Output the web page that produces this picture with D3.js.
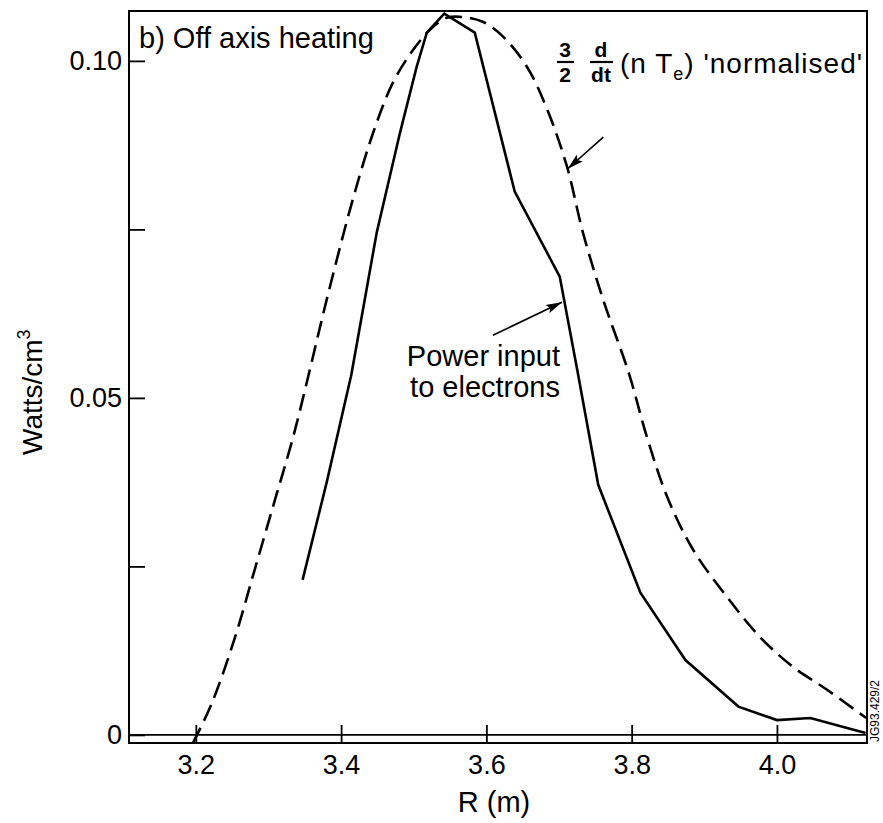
<!DOCTYPE html>
<meta charset="utf-8">
<style>
  body {
    margin: 0;
    background: #fff;
  }

  svg {
    font-family: "Liberation Sans", Arial, Helvetica, sans-serif;
  }

  .frame {
    fill: none;
    stroke: #000;
    stroke-width: 2;
  }

  .axis path {
    display: none;
  }

  .axis line {
    stroke: #000;
    stroke-width: 1.8;
  }

  .axis text {
    font-size: 27px;
    fill: #000;
  }

  .curve {
    fill: none;
    stroke: #000;
    stroke-width: 2.6;
  }

  .pointer {
    stroke: #000;
    stroke-width: 1.6;
  }

  .frac {
    font-size: 21px;
    font-weight: bold;
    text-anchor: middle;
  }
</style>

<body>
  <svg id="chart" width="883" height="823"></svg>
  <script src="https://cdn.jsdelivr.net/npm/d3@7/dist/d3.min.js"></script>
  <script>

    // power input to electrons (solid line), R in m, Watts/cm3
    var powerR = [3.347, 3.380, 3.414, 3.449, 3.481, 3.504, 3.518, 3.542, 3.584, 3.639,
      3.701, 3.725, 3.754, 3.812, 3.874, 3.947, 4.000, 4.046, 4.122]
    var powerW = [0.0230, 0.0374, 0.0534, 0.0745, 0.0893, 0.0991, 0.1042, 0.1070, 0.1042, 0.0806,
      0.0680, 0.0542, 0.0371, 0.0211, 0.0111, 0.0042, 0.0022, 0.0025, 0.0003]

    // 3/2 d/dt (n Te) 'normalised' (dashed line)
    var dndtR = [3.196, 3.222, 3.254, 3.281, 3.309, 3.334, 3.357, 3.380, 3.416, 3.444,
      3.471, 3.499, 3.526, 3.546, 3.568, 3.595, 3.623, 3.656, 3.683, 3.711,
      3.733, 3.761, 3.796, 3.821, 3.849, 3.885, 3.931, 3.977, 4.022, 4.069, 4.123]
    var dndtW = [-0.0012, 0.0047, 0.0145, 0.0245, 0.0349, 0.0442, 0.0542, 0.0645, 0.0794, 0.0893,
      0.0967, 0.1016, 0.1050, 0.1064, 0.1065, 0.1058, 0.1036, 0.0991, 0.0930, 0.0843,
      0.0745, 0.0645, 0.0537, 0.0442, 0.0353, 0.0274, 0.0205, 0.0145, 0.0101, 0.0067, 0.0025]

    var xTicks = [3.2, 3.4, 3.6, 3.8, 4.0]
    var xTickLabels = ['3.2', '3.4', '3.6', '3.8', '4.0']
    var yTicks = [0, 0.025, 0.05, 0.075, 0.10]
    var yTickLabels = ['0', '', '0.05', '', '0.10']

    var width = 883
    var height = 823
    var margin = { top: 11, right: 16, bottom: 80, left: 129 }

    var svg = d3.select('#chart')

    var x = d3.scaleLinear()
      .domain([3.108, 4.124])
      .range([margin.left, width - margin.right])

    var y = d3.scaleLinear()
      .domain([-0.0012, 0.1074])
      .range([height - margin.bottom, margin.top])

    // arrow head
    svg.append('defs').append('marker')
      .attr('id', 'head')
      .attr('viewBox', '0 -5 16 10')
      .attr('refX', 16)
      .attr('refY', 0)
      .attr('markerUnits', 'userSpaceOnUse')
      .attr('markerWidth', 16)
      .attr('markerHeight', 10)
      .attr('orient', 'auto')
      .append('path')
      .attr('d', 'M0,-4.5L16,0L0,4.5L3,0Z')
      .attr('fill', '#000')

    // axes, ticks pointing inwards
    var xAxis = d3.axisBottom(x)
      .tickValues(xTicks)
      .tickFormat(function (d, i) { return xTickLabels[i] })
      .tickSize(-18)
      .tickPadding(12)

    svg.append('g')
      .attr('class', 'axis')
      .attr('transform', 'translate(0,' + (height - margin.bottom) + ')')
      .call(xAxis)

    var yAxis = d3.axisLeft(y)
      .tickValues(yTicks)
      .tickFormat(function (d, i) { return yTickLabels[i] })
      .tickSize(-16)
      .tickPadding(7)

    svg.append('g')
      .attr('class', 'axis')
      .attr('transform', 'translate(' + margin.left + ',0)')
      .call(yAxis)

    // zero line across the plot
    svg.append('line')
      .attr('x1', x.range()[0])
      .attr('x2', x.range()[1])
      .attr('y1', y(0))
      .attr('y2', y(0))
      .attr('stroke', '#000')
      .attr('stroke-width', 1.6)

    svg.append('rect')
      .attr('class', 'frame')
      .attr('x', margin.left)
      .attr('y', margin.top)
      .attr('width', width - margin.left - margin.right)
      .attr('height', height - margin.top - margin.bottom)

    var power = d3.zip(powerR, powerW)
    var dndt = d3.zip(dndtR, dndtW)

    var solidLine = d3.line()
      .x(function (d) { return x(d[0]) })
      .y(function (d) { return y(d[1]) })

    var dashLine = d3.line()
      .curve(d3.curveCatmullRom.alpha(0.5))
      .x(function (d) { return x(d[0]) })
      .y(function (d) { return y(d[1]) })

    svg.append('path')
      .datum(dndt)
      .attr('class', 'curve')
      .attr('stroke-dasharray', '17,8')
      .attr('d', dashLine)

    svg.append('path')
      .datum(power)
      .attr('class', 'curve')
      .attr('d', solidLine)

    // pointers (data units)
    var pointers = [
      { from: [3.609, 0.0593], to: [3.704, 0.0642] },
      { from: [3.761, 0.0887], to: [3.712, 0.0840] }
    ]

    svg.selectAll('.pointer')
      .data(pointers)
      .enter().append('line')
      .attr('class', 'pointer')
      .attr('x1', function (d) { return x(d.from[0]) })
      .attr('y1', function (d) { return y(d.from[1]) })
      .attr('x2', function (d) { return x(d.to[0]) })
      .attr('y2', function (d) { return y(d.to[1]) })
      .attr('marker-end', 'url(#head)')

    // panel title
    svg.append('text')
      .attr('x', 139)
      .attr('y', 48)
      .style('font-size', '29px')
      .text('b) Off axis heating')

    // solid curve label
    var pl = svg.append('text')
      .style('font-size', '29px')
      .attr('text-anchor', 'end')
    pl.append('tspan').attr('x', 560).attr('y', 366).text('Power input')
    pl.append('tspan').attr('x', 560).attr('y', 397).text('to electrons')

    // dashed curve label: 3/2 d/dt (n Te) 'normalised'
    var lab = svg.append('g')
    var f1 = lab.append('text').attr('class', 'frac')
    f1.append('tspan').attr('x', 565).attr('y', 57).text('3')
    f1.append('tspan').attr('x', 565).attr('y', 82).text('2')
    lab.append('line').attr('x1', 557).attr('x2', 574).attr('y1', 62).attr('y2', 62)
      .attr('stroke', '#000').attr('stroke-width', 2.2)
    var f2 = lab.append('text').attr('class', 'frac')
    f2.append('tspan').attr('x', 601).attr('y', 57).text('d')
    f2.append('tspan').attr('x', 601).attr('y', 82).text('dt')
    lab.append('line').attr('x1', 590).attr('x2', 613).attr('y1', 62).attr('y2', 62)
      .attr('stroke', '#000').attr('stroke-width', 2.2)

    var nt = lab.append('text')
      .attr('x', 620)
      .attr('y', 73)
      .style('font-size', '28px')
      .attr('letter-spacing', 1)
    nt.append('tspan').text('(n T')
    nt.append('tspan').style('font-size', '18px').attr('dy', 7).text('e')
    nt.append('tspan').attr('dy', -7).text(") 'normalised'")

    // axis titles
    svg.append('text')
      .attr('x', 494)
      .attr('y', 812)
      .attr('text-anchor', 'middle')
      .style('font-size', '29px')
      .text('R (m)')

    var yl = svg.append('text')
      .attr('transform', 'translate(42,455) rotate(-90)')
      .style('font-size', '28px')
    yl.append('tspan').text('Watts/cm')
    yl.append('tspan').style('font-size', '18px').attr('dy', -12).text('3')

    // figure reference
    svg.append('text')
      .attr('transform', 'translate(879,742) rotate(-90)')
      .style('font-size', '12px')
      .text('JG93.429/2')

  </script>
</body>
